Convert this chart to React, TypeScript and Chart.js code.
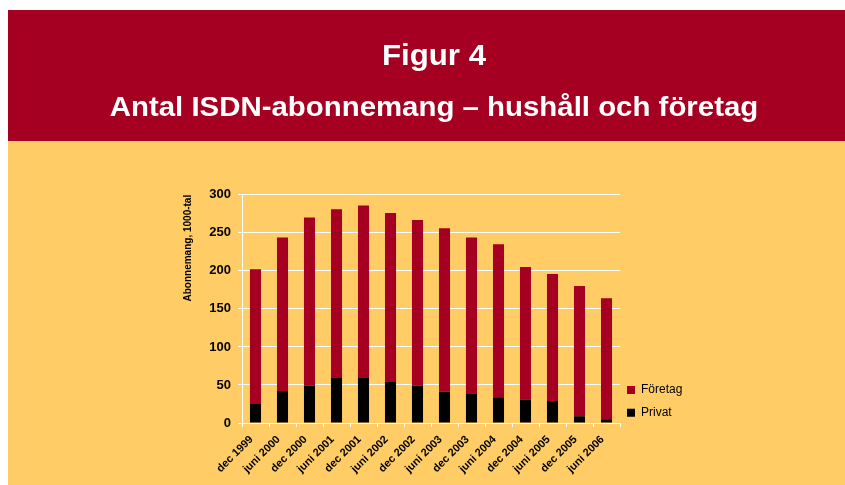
import React, { useEffect, useRef } from 'react';
import { Chart, registerables } from 'chart.js';

Chart.register(...registerables);

const categories = [
  'dec 1999', 'juni 2000', 'dec 2000', 'juni 2001', 'dec 2001', 'juni 2002', 'dec 2002',
  'juni 2003', 'dec 2003', 'juni 2004', 'dec 2004', 'juni 2005', 'dec 2005', 'juni 2006',
];
const privat = [25, 42, 49, 59, 59, 54, 49, 41, 38, 34, 31, 29, 9, 5];
const foretag = [177, 202, 221, 222, 227, 222, 218, 215, 206, 201, 174, 167, 171, 159];
const yMin = 0;
const yMax = 300;
const yStep = 50;

const titleMain = 'Figur 4';
const titleSub = 'Antal ISDN-abonnemang – hushåll och företag';
const yTitle = 'Abonnemang, 1000-tal';
const seriesNames = ['Privat', 'Företag'];

const RED = '#A50021';
const ORANGE = '#FFCC66';
const FONT = '"Liberation Sans", Arial, Helvetica, sans-serif';

// chart area right edge (canvas coords) is pinned; legend is placed just right of it
const PLOT_RIGHT = 442;
const LEGEND_W = 76;

const legendShift = {
  id: 'legendShift',
  afterLayout(chart: any) {
    const l = chart.legend;
    if (!l) return;
    const dx = chart.chartArea.right - l.left - 3.7;
    l.left += dx;
    l.right += dx;
    l.top += 6.4;
    l.bottom += 6.4;
  },
};

export default function App() {
  const ref = useRef<HTMLCanvasElement | null>(null);

  useEffect(() => {
    if (!ref.current) return;
    Chart.defaults.font.family = FONT;
    const chart = new Chart(ref.current, {
      type: 'bar',
      data: {
        labels: categories,
        datasets: [
          {
            label: seriesNames[0],
            data: privat,
            backgroundColor: '#000000',
            borderWidth: 0,
            barPercentage: 0.41,
            categoryPercentage: 1,
          },
          {
            label: seriesNames[1],
            data: foretag,
            backgroundColor: RED,
            borderWidth: 0,
            barPercentage: 0.41,
            categoryPercentage: 1,
          },
        ],
      },
      options: {
        animation: false,
        responsive: false,
        layout: { padding: { top: 14.5, right: 667 - PLOT_RIGHT - LEGEND_W, bottom: 0, left: 0 } },
        plugins: {
          tooltip: { enabled: false },
          legend: {
            display: true,
            position: 'right',
            align: 'end',
            fullSize: false,
            reverse: true,
            maxWidth: LEGEND_W,
            labels: {
              boxWidth: 8,
              boxHeight: 8,
              padding: 10.7,
              color: '#000',
              font: { family: FONT, size: 12 },
            },
          },
        },
        scales: {
          x: {
            stacked: true,
            grid: {
              display: true,
              drawOnChartArea: false,
              drawTicks: true,
              tickLength: 4,
              color: '#ffffff',
              lineWidth: 1,
              offset: true,
            },
            border: { display: true, color: '#ffffff', width: 1 },
            ticks: {
              color: '#000',
              font: { family: FONT, size: 11, weight: 'bold' },
              minRotation: 45,
              maxRotation: 45,
              autoSkip: false,
              padding: 6,
              labelOffset: -4,
            },
            afterFit: (s: any) => {
              s.height = 62;
            },
          },
          y: {
            stacked: true,
            min: yMin,
            max: yMax,
            ticks: {
              stepSize: yStep,
              color: '#000',
              font: { family: FONT, size: 13, weight: 'bold' },
              padding: 7,
            },
            grid: { color: '#ffffff', lineWidth: 1, tickLength: 4 },
            border: { display: true, color: '#ffffff', width: 1 },
            title: {
              display: true,
              text: yTitle,
              align: 'end',
              color: '#000',
              font: { family: FONT, size: 10, weight: 'bold' },
              padding: 4,
            },
            afterFit: (s: any) => {
              s.width = 64;
            },
          },
        },
      },
      plugins: [legendShift],
    });
    return () => chart.destroy();
  }, []);

  return (
    <div
      style={{
        position: 'fixed',
        left: 8,
        top: 10,
        width: 852,
        height: 500,
        background: ORANGE,
        fontFamily: FONT,
      }}
    >
      <div
        style={{
          position: 'absolute',
          left: 0,
          top: 0,
          width: 852,
          height: 131,
          background: RED,
        }}
      >
        <div
          style={{
            position: 'absolute',
            left: 0,
            width: 852,
            top: 29.6,
            textAlign: 'center',
            color: '#fff',
            fontWeight: 'bold',
            fontSize: 30,
            lineHeight: '30px',
            whiteSpace: 'nowrap',
            transform: 'scaleX(1.04)',
          }}
        >
          {titleMain}
        </div>
        <div
          style={{
            position: 'absolute',
            left: 0,
            width: 852,
            top: 83.3,
            textAlign: 'center',
            color: '#fff',
            fontWeight: 'bold',
            fontSize: 28,
            lineHeight: '28px',
            whiteSpace: 'nowrap',
            transform: 'scaleX(1.05)',
          }}
        >
          {titleSub}
        </div>
      </div>
      <canvas
        ref={ref}
        width={667}
        height={305}
        style={{ position: 'absolute', left: 170, top: 170, width: 667, height: 305 }}
      />
    </div>
  );
}
